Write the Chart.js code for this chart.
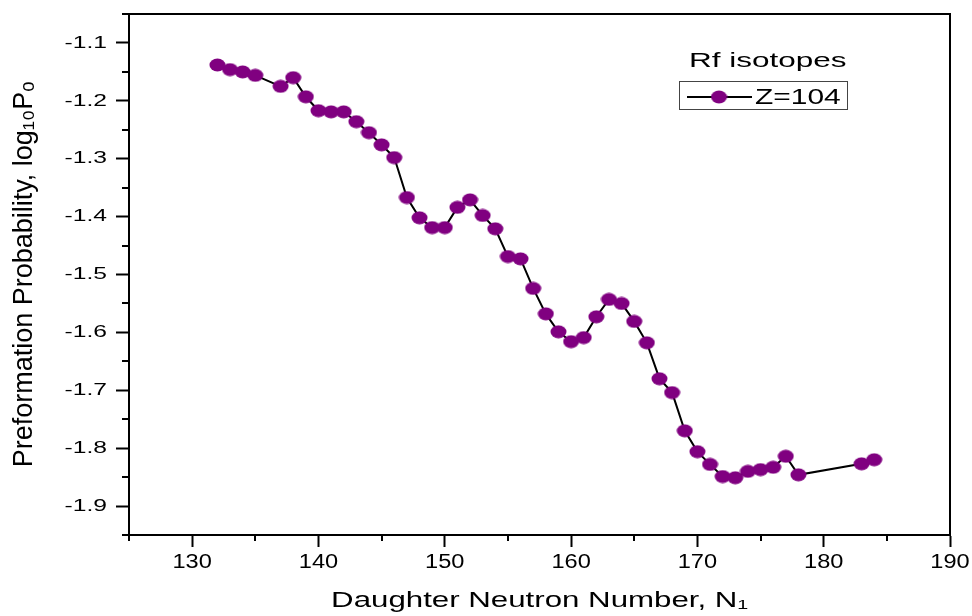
<!DOCTYPE html>
<html>
<head>
<meta charset="utf-8">
<script src="https://cdn.jsdelivr.net/npm/chart.js@4/dist/chart.umd.min.js"></script>
<style>
html,body{margin:0;padding:0;background:#ffffff;}
#c{display:block;}
</style>
</head>
<body>
<canvas id="c" width="972" height="616" style="width:972px;height:616px"></canvas>
<script>
// ---- data ----
const neutronNumbers = [132,133,134,135,137,138,139,140,141,142,143,144,145,146,147,148,149,150,151,152,153,154,155,156,157,158,159,160,161,162,163,164,165,166,167,168,169,170,171,172,173,174,175,176,177,178,183,184];
const log10P0 = [-1.138,-1.146,-1.150,-1.156,-1.175,-1.160,-1.193,-1.217,-1.219,-1.219,-1.236,-1.255,-1.276,-1.298,-1.367,-1.402,-1.419,-1.419,-1.384,-1.371,-1.398,-1.421,-1.469,-1.473,-1.524,-1.568,-1.599,-1.616,-1.609,-1.573,-1.543,-1.550,-1.581,-1.618,-1.680,-1.704,-1.770,-1.806,-1.828,-1.849,-1.851,-1.840,-1.837,-1.833,-1.814,-1.846,-1.827,-1.820];
const xTickValues = [130,140,150,160,170,180,190];
const xMinorTickValues = [125,135,145,155,165,175,185];
const yTickValues = [-1.9,-1.8,-1.7,-1.6,-1.5,-1.4,-1.3,-1.2,-1.1];
const yMinorTickValues = [-1.95,-1.85,-1.75,-1.65,-1.55,-1.45,-1.35,-1.25,-1.15,-1.05];
const seriesLabel = 'Z=104';
const legendTitle = 'Rf isotopes';
const xTitle = 'Daughter Neutron Number, N\u2081';
const yTitle = 'Preformation Probability, log\u2081\u2080P\u2092';

const FAMILY = "'Liberation Sans', Arial, Helvetica, sans-serif";
const markerColor = '#800080';

// horizontal stretch of the reference's lettering
function stretchFor(t) {
  if (t === legendTitle) return 1.5;
  if (t === seriesLabel) return 1.36;
  if (t === xTitle) return 1.42;
  if (t === yTitle) return 1.05;
  if (/^-\d/.test(t)) return 1.45;
  if (/^\d+$/.test(t)) return 1.18;
  return 1;
}

const canvas = document.getElementById('c');
const ctx2d = canvas.getContext('2d');
const origFillText = ctx2d.fillText;
ctx2d.fillText = function (text, x, y, maxWidth) {
  const f = stretchFor(String(text));
  if (f === 1) {
    return maxWidth === undefined ? origFillText.call(this, text, x, y) : origFillText.call(this, text, x, y, maxWidth);
  }
  this.save();
  const m = this.getTransform();
  this.translate(x, y);
  if (Math.abs(m.b) > 0.5) this.scale(1, f); else this.scale(f, 1);
  origFillText.call(this, text, 0, 0);
  this.restore();
};

// elliptical marker like the reference
const dot = document.createElement('canvas');
dot.width = 17; dot.height = 14;
(function(){
  const d = dot.getContext('2d');
  d.fillStyle = markerColor;
  d.beginPath();
  d.ellipse(8.5, 7, 8, 6.5, 0, 0, Math.PI * 2);
  d.fill();
})();

const frameAndMinor = {
  id: 'frameAndMinor',
  afterDraw(chart) {
    const {ctx, chartArea: a, scales} = chart;
    ctx.save();
    ctx.strokeStyle = '#000';
    ctx.lineWidth = 2;
    ctx.beginPath();
    ctx.moveTo(a.left, a.top);
    ctx.lineTo(a.right, a.top);
    ctx.lineTo(a.right, a.bottom);
    ctx.stroke();
    ctx.beginPath();
    yMinorTickValues.forEach(v => {
      const py = Math.round(scales.y.getPixelForValue(v));
      ctx.moveTo(a.left - 7, py);
      ctx.lineTo(a.left, py);
    });
    xMinorTickValues.forEach(v => {
      const px = Math.round(scales.x.getPixelForValue(v));
      ctx.moveTo(px, a.bottom);
      ctx.lineTo(px, a.bottom + 6);
    });
    ctx.stroke();
    ctx.restore();
  }
};

const legendBox = {
  id: 'legendBox',
  afterDraw(chart) {
    const ctx = chart.ctx;
    const ds = chart.data.datasets[0];
    ctx.save();
    ctx.fillStyle = '#000';
    ctx.textAlign = 'left';
    ctx.textBaseline = 'alphabetic';
    ctx.font = '21px ' + FAMILY;
    ctx.fillText(legendTitle, 689, 67);
    ctx.strokeStyle = '#444';
    ctx.lineWidth = 1;
    ctx.strokeRect(679.5, 81.5, 168, 28);
    ctx.strokeStyle = ds.borderColor;
    ctx.lineWidth = 2;
    ctx.beginPath();
    ctx.moveTo(687, 97);
    ctx.lineTo(752, 97);
    ctx.stroke();
    ctx.drawImage(dot, 719 - dot.width / 2, 97 - dot.height / 2);
    ctx.font = '22px ' + FAMILY;
    ctx.fillText(ds.label, 755, 104);
    ctx.restore();
  }
};

new Chart(ctx2d, {
  type: 'line',
  data: {
    datasets: [{
      label: seriesLabel,
      data: neutronNumbers.map((n, i) => ({x: n, y: log10P0[i]})),
      borderColor: '#000000',
      borderWidth: 2,
      backgroundColor: markerColor,
      pointStyle: dot,
      pointRadius: 8,
      tension: 0,
      fill: false
    }]
  },
  options: {
    responsive: false,
    devicePixelRatio: 1,
    animation: false,
    layout: {padding: {top: 14, right: 22, left: 0, bottom: 0}},
    plugins: {legend: {display: false}, tooltip: {enabled: false}},
    scales: {
      x: {
        type: 'linear',
        min: 125, max: 190,
        afterBuildTicks: s => { s.ticks = xTickValues.map(v => ({value: v})); },
        afterFit: s => { s.height = 81; s.paddingLeft = 0; s.paddingRight = 0; },
        ticks: {
          color: '#000', padding: 3, maxRotation: 0, autoSkip: false,
          font: {size: 20, family: FAMILY},
          callback: v => String(v)
        },
        grid: {drawOnChartArea: false, tickLength: 12, tickWidth: 2, tickColor: '#000'},
        border: {color: '#000', width: 2},
        title: {display: true, text: xTitle, color: '#000', font: {size: 22, family: FAMILY}, padding: {top: 0, bottom: 2}}
      },
      y: {
        type: 'linear',
        min: -1.95, max: -1.05,
        afterBuildTicks: s => { s.ticks = yTickValues.map(v => ({value: v})); },
        afterFit: s => { s.width = 129; s.paddingTop = 0; s.paddingBottom = 0; },
        ticks: {
          color: '#000', padding: 9,
          font: {size: 17, family: FAMILY},
          callback: v => Number(v).toFixed(1)
        },
        grid: {drawOnChartArea: false, tickLength: 13, tickWidth: 2, tickColor: '#000'},
        border: {color: '#000', width: 2},
        title: {display: true, text: yTitle, color: '#000', font: {size: 27, family: FAMILY}, padding: {top: 8, bottom: 0}}
      }
    }
  },
  plugins: [frameAndMinor, legendBox]
});
</script>
</body>
</html>
